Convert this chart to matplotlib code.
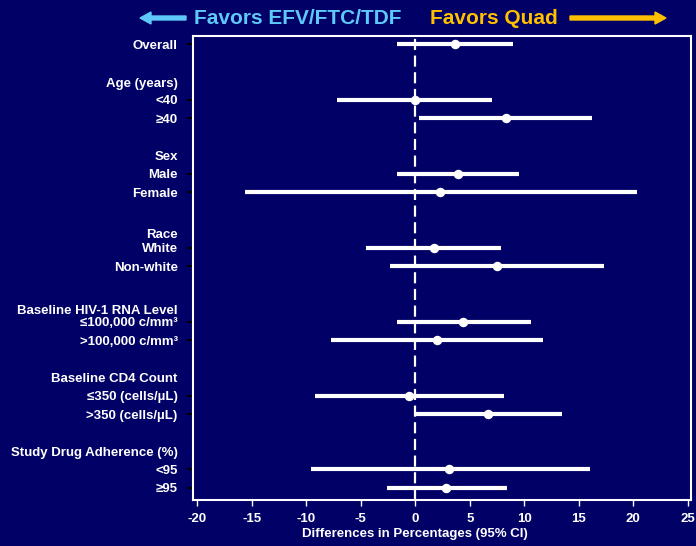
import matplotlib
matplotlib.use("Agg")
import matplotlib.pyplot as plt
from matplotlib.patches import FancyArrow
from matplotlib.transforms import blended_transform_factory

# forest plot data: point estimate and 95% CI (percent difference)
labels = ["Overall", "<40", "≥40", "Male", "Female", "White", "Non-white",
          "≤100,000 c/mm³", ">100,000 c/mm³",
          "≤350 (cells/µL)", ">350 (cells/µL)", "<95", "≥95"]
rows = [0, 3, 4, 7, 8, 11, 12, 15, 16, 19, 20, 23, 24]
est = [3.6, 0.0, 8.3, 3.9, 2.3, 1.7, 7.5, 4.4, 2.0, -0.6, 6.7, 3.1, 2.8]
lo = [-1.7, -7.2, 0.3, -1.7, -15.6, -4.5, -2.3, -1.7, -7.7, -9.2, 0.1, -9.6, -2.6]
hi = [9.0, 7.0, 16.2, 9.5, 20.3, 7.9, 17.3, 10.6, 11.7, 8.1, 13.5, 16.0, 8.4]

headers = ["Age (years)", "Sex", "Race", "Baseline HIV-1 RNA Level",
           "Baseline CD4 Count", "Study Drug Adherence (%)"]
header_rows = [2.15, 6.1, 10.3, 14.4, 18.1, 22.1]

xticks = [-20, -15, -10, -5, 0, 5, 10, 15, 20, 25]

bg = "#000066"
plt.rcParams['font.family'] = ['Liberation Sans', 'DejaVu Sans']
plt.rcParams['font.weight'] = 'bold'
fs = 9.5

fig = plt.figure(figsize=(6.96, 5.46), dpi=100, facecolor=bg)
ax = fig.add_axes([193/696, 1-500/546, 498/696, 464/546], facecolor=bg)

for r, e, l, h in zip(rows, est, lo, hi):
    ax.plot([l, h], [r, r], color="white", lw=3, solid_capstyle="butt", zorder=3)
    ax.plot(e, r, "o", color="white", ms=5.8, zorder=4)

ax.axvline(0, color="white", lw=1.6, ls=(0, (5, 2.5)), zorder=2)

ax.set_xlim(-20.4, 25.3)
ax.set_ylim(24.65, -0.45)
ax.set_xticks(xticks)
ax.set_xticklabels([str(t) for t in xticks], color="white", fontsize=fs, fontweight="bold")
ax.set_yticks(rows)
ax.set_yticklabels(labels, color="white", fontsize=fs, fontweight="bold")
ax.tick_params(axis="y", colors="black", length=4, width=1.5, pad=7, labelcolor="white")
ax.tick_params(axis="x", colors="white", length=4, width=1, pad=5, labelcolor="white")
for s in ax.spines.values():
    s.set_color("white")
    s.set_linewidth(1.5)

for t, r in zip(headers, header_rows):
    ax.text(-21.8, r, t, ha="right", va="center", color="white", fontsize=fs,
            fontweight="bold", clip_on=False)

# x label sits under the zero line on the original slide
trans = blended_transform_factory(ax.transData, fig.transFigure)
ax.text(0, 1-534/546, "Differences in Percentages (95% CI)", color="white",
        fontsize=fs, fontweight="bold", ha="center", va="center", transform=trans)

# header with arrows
fig.text(298/696, 1-18/546, "Favors EFV/FTC/TDF", color="#5ec8f8", fontsize=15,
         fontweight="bold", ha="center", va="center")
fig.text(494/696, 1-18/546, "Favors Quad", color="#ffc000", fontsize=15,
         fontweight="bold", ha="center", va="center")
fig.add_artist(FancyArrow(186/696, 1-18/546, -46/696, 0,
               width=4/546, head_width=12/546, head_length=11/696,
               length_includes_head=True, color="#5ec8f8", transform=fig.transFigure))
fig.add_artist(FancyArrow(570/696, 1-18/546, 96/696, 0,
               width=4/546, head_width=12/546, head_length=11/696,
               length_includes_head=True, color="#ffc000", transform=fig.transFigure))

fig.savefig("out.png", dpi=100, facecolor=bg)
